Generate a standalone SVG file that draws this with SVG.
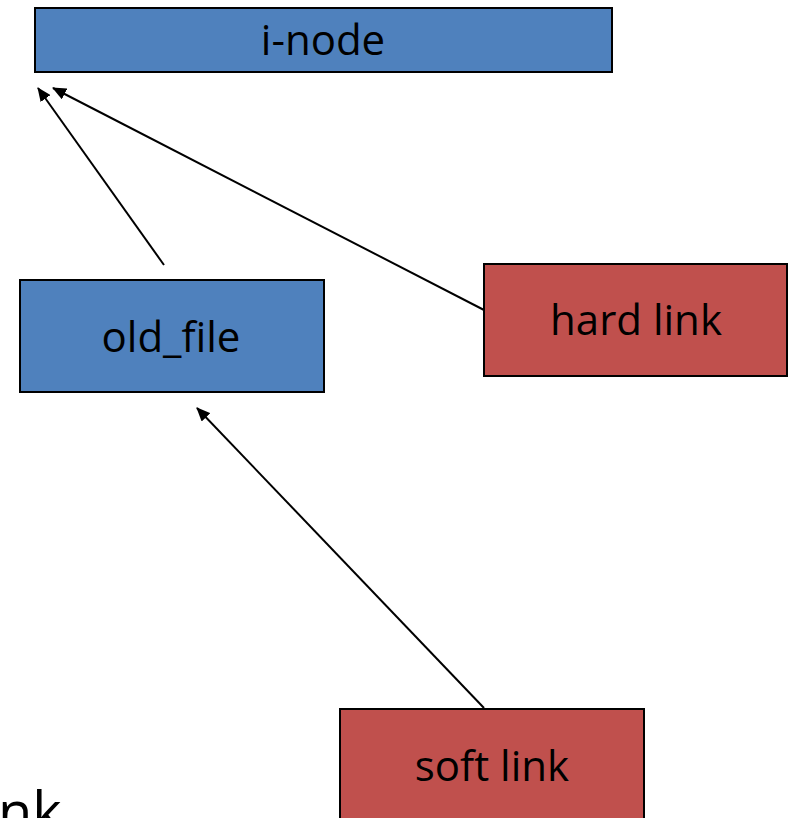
<svg xmlns="http://www.w3.org/2000/svg" width="793" height="818" viewBox="0 0 793 818">
  <style>
    .box { stroke: #000; stroke-width: 2; }
    .blue { fill: #4f81bd; }
    .red { fill: #c0504d; }
    .label { font-family: "Open Sans", "Noto Sans", sans-serif; font-size: 42px; fill: #000; text-anchor: middle; }
    .edge { stroke: #000; stroke-width: 2; fill: none; marker-end: url(#arrow); }
  </style>
  <defs>
    <marker id="arrow" viewBox="0 0 14 12" refX="13" refY="6" markerWidth="14" markerHeight="12" markerUnits="userSpaceOnUse" orient="auto">
      <path d="M0,0 L14,6 L0,12 z" fill="#000"/>
    </marker>
  </defs>
  <rect width="793" height="818" fill="#fff"/>

  <g id="inode">
    <rect class="box blue" x="35" y="8" width="577" height="64"/>
    <text class="label" x="323" y="55">i-node</text>
  </g>
  <g id="old_file">
    <rect class="box blue" x="20" y="280" width="304" height="112"/>
    <text class="label" x="171" y="352">old_file</text>
  </g>
  <g id="hard_link">
    <rect class="box red" x="484" y="264" width="303" height="112"/>
    <text class="label" x="636" y="335">hard link</text>
  </g>
  <g id="soft_link">
    <rect class="box red" x="340" y="709" width="304" height="120"/>
    <text class="label" x="492" y="781">soft link</text>
  </g>

  <text x="-2" y="832" font-family="'Open Sans', 'Noto Sans', sans-serif" font-size="56" fill="#000">nk</text>

  <g id="connectors">
    <line class="edge" x1="164" y1="265" x2="38" y2="88"/>
    <line class="edge" x1="484" y1="310" x2="53" y2="88"/>
    <line class="edge" x1="484" y1="708" x2="197" y2="408"/>
  </g>
</svg>
